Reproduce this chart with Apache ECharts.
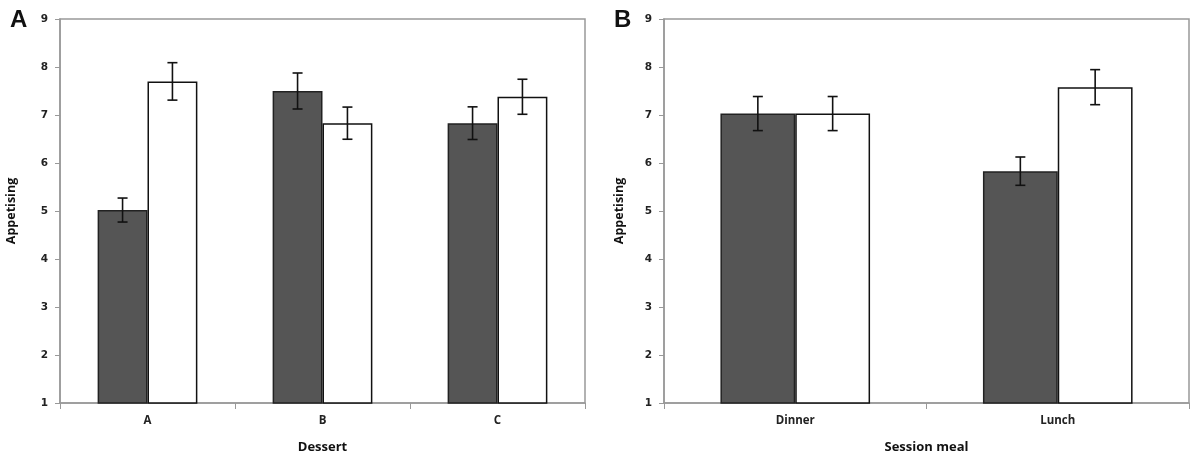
<!DOCTYPE html>
<html>
<head>
<meta charset="utf-8">
<script src="https://cdn.jsdelivr.net/npm/echarts@6/dist/echarts.min.js"></script>
<style>
html,body{margin:0;padding:0;background:#fff;}
#chart{width:1200px;height:463px;}
</style>
</head>
<body>
<div id="chart"></div>
<script>
// ---- data ----
const yTicks = [1, 2, 3, 4, 5, 6, 7, 8, 9];
const dessertCats = ['A', 'B', 'C'];
const dessertDark = [5.02, 7.50, 6.83];
const dessertDarkErr = [0.25, 0.375, 0.34];
const dessertWhite = [7.70, 6.83, 7.38];
const dessertWhiteErr = [0.39, 0.335, 0.365];
const mealCats = ['Dinner', 'Lunch'];
const mealDark = [7.03, 5.83];
const mealDarkErr = [0.355, 0.295];
const mealWhite = [7.03, 7.58];
const mealWhiteErr = [0.355, 0.365];

const GAP = 0.43; // barCategoryGap fraction
const chart = echarts.init(document.getElementById('chart'), null, {renderer: 'canvas'});

function errData(vals, errs) {
  return vals.map((v, i) => [i, v - errs[i], v + errs[i]]);
}
function errSeries(vals, errs, axisIdx, side) {
  return {
    type: 'custom',
    xAxisIndex: axisIdx, yAxisIndex: axisIdx,
    z: 10,
    data: errData(vals, errs),
    renderItem: function (params, api) {
      const band = api.size([1, 0])[0];
      const barW = band * (1 - GAP) / 2;
      const c = api.coord([api.value(0), api.value(1)]);
      const x = c[0] + side * barW / 2;
      const yLo = c[1];
      const yHi = api.coord([api.value(0), api.value(2)])[1];
      const cap = 5;
      const st = {stroke: '#111', lineWidth: 1.6};
      return {
        type: 'group',
        children: [
          {type: 'line', shape: {x1: x, y1: yLo, x2: x, y2: yHi}, style: st},
          {type: 'line', shape: {x1: x - cap, y1: yLo, x2: x + cap, y2: yLo}, style: st},
          {type: 'line', shape: {x1: x - cap, y1: yHi, x2: x + cap, y2: yHi}, style: st}
        ]
      };
    }
  };
}

const tickFont = {fontFamily: 'DejaVu Sans', fontSize: 10.5, fontWeight: 'bold', color: '#222'};
const catFont = {fontFamily: 'Open Sans', fontSize: 11.5, fontWeight: 'bold', color: '#222'};
const titleFont = {fontFamily: 'Open Sans', fontSize: 13, fontWeight: 'bold', color: '#111'};

function yAxisCfg(idx, gap) {
  return {
    type: 'value', gridIndex: idx, min: yTicks[0], max: yTicks[yTicks.length - 1], interval: 1,
    name: 'Appetising', nameLocation: 'middle', nameGap: gap, nameRotate: 90,
    nameTextStyle: {fontFamily: 'Open Sans', fontSize: 12.5, fontWeight: 'bold', color: '#111'},
    axisLine: {show: true, lineStyle: {color: '#999', width: 1.5}},
    axisTick: {show: true, length: 5, lineStyle: {color: '#999'}},
    axisLabel: Object.assign({margin: 12}, tickFont),
    splitLine: {show: false}
  };
}
function xAxisCfg(idx, cats, name) {
  return {
    type: 'category', gridIndex: idx, data: cats,
    name: name, nameLocation: 'middle', nameGap: 38, nameTextStyle: titleFont,
    axisLine: {show: true, lineStyle: {color: '#999', width: 1.5}},
    axisTick: {show: true, length: 6, lineStyle: {color: '#999'}},
    axisLabel: Object.assign({margin: 12}, catFont),
    splitLine: {show: false}
  };
}
function barSeries(vals, idx, dark) {
  return {
    type: 'bar', xAxisIndex: idx, yAxisIndex: idx, data: vals,
    barGap: '0%', barCategoryGap: (GAP * 100) + '%',
    itemStyle: dark
      ? {color: '#555555', borderColor: '#222', borderWidth: 1.5}
      : {color: '#ffffff', borderColor: '#111', borderWidth: 1.5},
    emphasis: {disabled: true},
    clip: true
  };
}

chart.setOption({
  animation: false,
  backgroundColor: '#fff',
  title: [
    {text: 'A', left: 5, top: 3, textStyle: {fontFamily: 'Liberation Sans', fontSize: 24, fontWeight: 'bold', color: '#111'}},
    {text: 'B', left: 609, top: 3, textStyle: {fontFamily: 'Liberation Sans', fontSize: 24, fontWeight: 'bold', color: '#111'}}
  ],
  grid: [
    {left: 60, top: 19, width: 525, height: 384, show: true, borderColor: '#999', borderWidth: 1.5, containLabel: false},
    {left: 664, top: 19, width: 525, height: 384, show: true, borderColor: '#999', borderWidth: 1.5, containLabel: false}
  ],
  xAxis: [xAxisCfg(0, dessertCats, 'Dessert'), xAxisCfg(1, mealCats, 'Session meal')],
  yAxis: [yAxisCfg(0, 42), yAxisCfg(1, 38)],
  series: [
    barSeries(dessertDark, 0, true),
    barSeries(dessertWhite, 0, false),
    barSeries(mealDark, 1, true),
    barSeries(mealWhite, 1, false),
    errSeries(dessertDark, dessertDarkErr, 0, -1),
    errSeries(dessertWhite, dessertWhiteErr, 0, 1),
    errSeries(mealDark, mealDarkErr, 1, -1),
    errSeries(mealWhite, mealWhiteErr, 1, 1)
  ]
});
</script>
</body>
</html>
